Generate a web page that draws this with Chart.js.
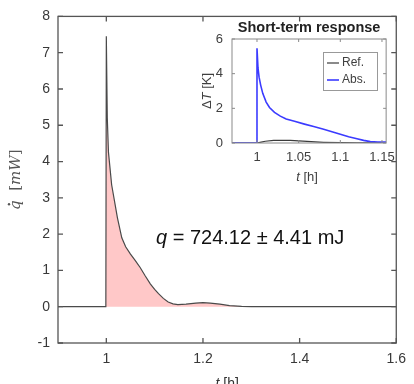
<!DOCTYPE html>
<html>
<head>
<meta charset="UTF-8">
<script src="https://cdn.jsdelivr.net/npm/chart.js"></script>
<style>
    body { margin: 0; background: #fff; }
    #wrap { position: relative; width: 414px; height: 384px; overflow: hidden; }
    #main { position: absolute; left: 0; top: 0; }
    #inset { position: absolute; left: 190px; top: 14px; }
</style>
</head>
<body>
<div id="wrap">
    <canvas id="main" width="414" height="384"></canvas>
    <canvas id="inset" width="212" height="176"></canvas>
</div>
<script>
    // main plot: heat flow q-dot [mW] vs t [h]
    var tMain = [0.9, 0.999, 1.0, 1.002, 1.0044, 1.011, 1.023, 1.032, 1.04, 1.05, 1.06, 1.07, 1.08, 1.091, 1.1, 1.108, 1.118, 1.128, 1.138, 1.148, 1.165, 1.185, 1.2, 1.215, 1.235, 1.255, 1.28, 1.3, 1.6];
    var qMain = [0, 0, 7.45, 5.2, 4.26, 3.36, 2.45, 1.9, 1.65, 1.45, 1.27, 1.08, 0.86, 0.63, 0.48, 0.36, 0.23, 0.13, 0.08, 0.06, 0.07, 0.1, 0.11, 0.1, 0.07, 0.03, 0.01, 0, 0];
    var xTicksMain = [1, 1.2, 1.4, 1.6];
    var yTicksMain = [-1, 0, 1, 2, 3, 4, 5, 6, 7, 8];

    // inset: short-term response, delta T [K]
    var tAbs = [0.97, 0.9995, 1.0, 1.0012, 1.0025, 1.0044, 1.007, 1.011, 1.015, 1.021, 1.028, 1.035, 1.045, 1.057, 1.068, 1.08, 1.09, 1.1, 1.11, 1.12, 1.128, 1.136, 1.145, 1.155];
    var dTAbs = [0, 0, 5.47, 4.33, 3.8, 3.34, 2.85, 2.36, 2.05, 1.77, 1.55, 1.38, 1.25, 1.09, 0.95, 0.79, 0.65, 0.5, 0.36, 0.24, 0.15, 0.08, 0.06, 0.05];
    var tRef = [0.97, 1.0, 1.005, 1.01, 1.02, 1.03, 1.04, 1.05, 1.06, 1.07, 1.08, 1.1, 1.12, 1.155];
    var dTRef = [0, 0, 0.05, 0.1, 0.15, 0.16, 0.15, 0.12, 0.09, 0.06, 0.04, 0.02, 0.01, 0.01];
    var xTicksInset = [1, 1.05, 1.1, 1.15];
    var yTicksInset = [0, 2, 4, 6];

    var SANS = 'Liberation Sans, Arial, sans-serif';

    function pts(xs, ys) {
        return xs.map(function (x, i) { return { x: x, y: ys[i] }; });
    }

    // plain tick text, matlab style: 1, 1.2, 1.05
    function plainTick(v) {
        return String(v);
    }

    // text made of pieces with different fonts
    function drawParts(ctx, parts, x, y, align) {
        var w = 0;
        parts.forEach(function (p) { ctx.font = p[1]; w += ctx.measureText(p[0]).width; });
        var cx = align === 'center' ? x - w / 2 : x;
        parts.forEach(function (p) {
            ctx.font = p[1];
            ctx.fillText(p[0], cx, y);
            cx += ctx.measureText(p[0]).width;
        });
    }

    // box around the plot area with inward ticks on all four sides
    function makeFrame(id, color, width, len, whiteBg) {
        return {
            id: id,
            beforeDatasetsDraw: function (chart) {
                if (!whiteBg) return;
                var a = chart.chartArea, ctx = chart.ctx;
                ctx.save();
                ctx.fillStyle = '#fff';
                ctx.fillRect(a.left, a.top, a.right - a.left, a.bottom - a.top);
                ctx.restore();
            },
            afterDraw: function (chart) {
                var a = chart.chartArea, ctx = chart.ctx;
                var xs = chart.scales.x, ys = chart.scales.y;
                ctx.save();
                ctx.strokeStyle = color;
                ctx.lineWidth = width;
                ctx.strokeRect(a.left, a.top, a.right - a.left, a.bottom - a.top);
                ctx.beginPath();
                xs.ticks.forEach(function (t) {
                    var px = xs.getPixelForValue(t.value);
                    ctx.moveTo(px, a.bottom); ctx.lineTo(px, a.bottom - len);
                    ctx.moveTo(px, a.top); ctx.lineTo(px, a.top + len);
                });
                ys.ticks.forEach(function (t) {
                    var py = ys.getPixelForValue(t.value);
                    ctx.moveTo(a.left, py); ctx.lineTo(a.left + len, py);
                    ctx.moveTo(a.right, py); ctx.lineTo(a.right - len, py);
                });
                ctx.stroke();
                ctx.restore();
            }
        };
    }

    var mainText = {
        id: 'mainText',
        afterDraw: function (chart) {
            var ctx = chart.ctx;
            var a = chart.chartArea;
            ctx.save();
            // annotation
            ctx.fillStyle = '#111';
            ctx.textBaseline = 'middle';
            drawParts(ctx, [['q', 'italic 20px ' + SANS], [' = 724.12 \u00b1 4.41 mJ', '20px ' + SANS]], 156, 238, 'left');
            // x label
            ctx.fillStyle = '#333';
            ctx.textBaseline = 'top';
            drawParts(ctx, [['t', 'italic 14px ' + SANS], [' [h]', '14px ' + SANS]], (a.left + a.right) / 2, 377, 'center');
            // y label, rotated
            ctx.translate(20, (a.top + a.bottom) / 2);
            ctx.rotate(-Math.PI / 2);
            ctx.fillStyle = '#555';
            ctx.textBaseline = 'alphabetic';
            var parts = [['q', 'italic 15px DejaVu Serif'], ['  [', '15px DejaVu Serif'], ['mW', 'italic 15px DejaVu Serif'], [']', '15px DejaVu Serif']];
            var w = 0;
            parts.forEach(function (p) { ctx.font = p[1]; w += ctx.measureText(p[0]).width; });
            ctx.font = parts[0][1];
            var qw = ctx.measureText('q').width;
            drawParts(ctx, parts, 0, 0, 'center');
            ctx.beginPath();
            ctx.arc(-w / 2 + qw * 0.6, -11, 1.2, 0, Math.PI * 2);
            ctx.fill();
            ctx.restore();
        }
    };

    var mainChart = new Chart(document.getElementById('main'), {
        type: 'line',
        data: {
            datasets: [{
                data: pts(tMain, qMain),
                borderColor: '#4a4a4a',
                borderWidth: 1.2,
                backgroundColor: 'rgb(255, 200, 200)',
                fill: 'origin',
                pointRadius: 0,
                tension: 0
            }]
        },
        options: {
            responsive: false,
            animation: false,
            devicePixelRatio: 1,
            layout: { padding: { left: 0, right: 12, top: 13, bottom: 0 } },
            plugins: { legend: { display: false }, tooltip: { enabled: false } },
            scales: {
                x: {
                    type: 'linear', min: 0.9, max: 1.6,
                    afterBuildTicks: function (s) { s.ticks = xTicksMain.map(function (v) { return { value: v }; }); },
                    afterFit: function (s) { s.height = 41; },
                    grid: { display: false, drawTicks: false },
                    border: { display: false },
                    ticks: { font: { family: SANS, size: 14 }, color: '#383838', padding: 8, maxRotation: 0, autoSkip: false, callback: plainTick }
                },
                y: {
                    type: 'linear', min: -1, max: 8,
                    afterBuildTicks: function (s) { s.ticks = yTicksMain.map(function (v) { return { value: v }; }); },
                    afterFit: function (s) { s.width = 58; },
                    grid: { display: false, drawTicks: false },
                    border: { display: false },
                    ticks: { font: { family: SANS, size: 14 }, color: '#383838', padding: 8, autoSkip: false, callback: plainTick }
                }
            }
        },
        plugins: [makeFrame('mainFrame', '#555', 1.3, 5, false), mainText]
    });

    var insetText = {
        id: 'insetText',
        afterDraw: function (chart) {
            var ctx = chart.ctx;
            var a = chart.chartArea;
            var cx = (a.left + a.right) / 2;
            ctx.save();
            // title
            ctx.fillStyle = '#222';
            ctx.textBaseline = 'middle';
            ctx.textAlign = 'left';
            drawParts(ctx, [['Short-term response', 'bold 14.5px ' + SANS]], cx, 14, 'center');
            // x label
            ctx.fillStyle = '#404040';
            drawParts(ctx, [['t', 'italic 13px ' + SANS], [' [h]', '13px ' + SANS]], cx - 2, 163, 'center');
            // legend, built from the datasets
            var lx = 133, ly = 38, lw = 54, lh = 38;
            ctx.fillStyle = '#fff';
            ctx.fillRect(lx, ly, lw, lh);
            ctx.strokeStyle = '#999';
            ctx.lineWidth = 1;
            ctx.strokeRect(lx + 0.5, ly + 0.5, lw, lh);
            var order = [1, 0];
            order.forEach(function (di, k) {
                var ds = chart.data.datasets[di];
                var yy = ly + 11 + k * 17;
                ctx.strokeStyle = ds.borderColor;
                ctx.lineWidth = ds.borderWidth;
                ctx.beginPath();
                ctx.moveTo(lx + 4, yy); ctx.lineTo(lx + 16, yy);
                ctx.stroke();
                ctx.fillStyle = '#404040';
                drawParts(ctx, [[ds.label, '12px ' + SANS]], lx + 19, yy, 'left');
            });
            // y label, rotated
            ctx.translate(21, (a.top + a.bottom) / 2);
            ctx.rotate(-Math.PI / 2);
            ctx.textBaseline = 'alphabetic';
            ctx.fillStyle = '#404040';
            drawParts(ctx, [['\u0394', '13px ' + SANS], ['T', 'italic 13px ' + SANS], [' [K]', '13px ' + SANS]], 0, 0, 'center');
            ctx.restore();
        }
    };

    var insetChart = new Chart(document.getElementById('inset'), {
        type: 'line',
        data: {
            datasets: [{
                label: 'Abs.',
                data: pts(tAbs, dTAbs),
                borderColor: '#3b3bff',
                borderWidth: 1.6,
                pointRadius: 0,
                fill: false,
                tension: 0,
                order: 0
            }, {
                label: 'Ref.',
                data: pts(tRef, dTRef),
                borderColor: '#3c3c3c',
                borderWidth: 1.2,
                pointRadius: 0,
                fill: false,
                tension: 0,
                order: 1
            }]
        },
        options: {
            responsive: false,
            animation: false,
            devicePixelRatio: 1,
            layout: { padding: { left: 0, right: 14, top: 25, bottom: 0 } },
            plugins: { legend: { display: false }, tooltip: { enabled: false } },
            scales: {
                x: {
                    type: 'linear', min: 0.97, max: 1.155,
                    afterBuildTicks: function (s) { s.ticks = xTicksInset.map(function (v) { return { value: v }; }); },
                    afterFit: function (s) { s.height = 47; },
                    grid: { display: false, drawTicks: false },
                    border: { display: false },
                    ticks: { font: { family: SANS, size: 13 }, color: '#404040', padding: 7, maxRotation: 0, autoSkip: false, callback: plainTick }
                },
                y: {
                    type: 'linear', min: 0, max: 6,
                    afterBuildTicks: function (s) { s.ticks = yTicksInset.map(function (v) { return { value: v }; }); },
                    afterFit: function (s) { s.width = 42; },
                    grid: { display: false, drawTicks: false },
                    border: { display: false },
                    ticks: { font: { family: SANS, size: 13 }, color: '#404040', padding: 9, autoSkip: false, callback: plainTick }
                }
            }
        },
        plugins: [makeFrame('insetFrame', '#8a8a8a', 1, 3, true), insetText]
    });
</script>
</body>
</html>
